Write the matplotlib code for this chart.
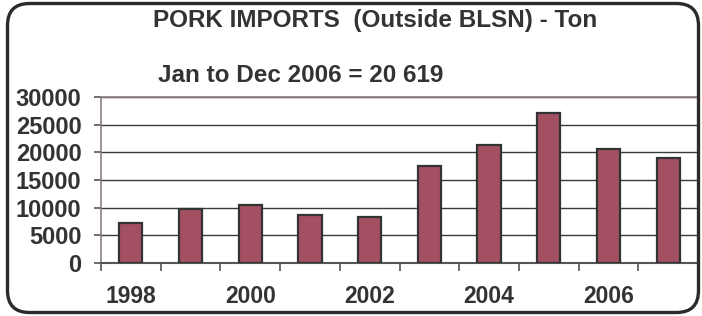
import matplotlib
matplotlib.use("Agg")
import matplotlib.pyplot as plt
from matplotlib.patches import FancyBboxPatch

# data
years = [1998, 1999, 2000, 2001, 2002, 2003, 2004, 2005, 2006, 2007]
tons = [7200, 9700, 10400, 8600, 8250, 17450, 21400, 27100, 20619, 18900]
label_years = ["1998", "2000", "2002", "2004", "2006"]
y_ticks = [0, 5000, 10000, 15000, 20000, 25000, 30000]

title = "PORK IMPORTS  (Outside BLSN) - Ton"
subtitle = "Jan to Dec 2006 = 20 619"

plt.rcParams["font.family"] = ["Liberation Sans", "DejaVu Sans"]
plt.rcParams["font.weight"] = "bold"
txt = "#333333"

fig = plt.figure(figsize=(7.02, 3.16), dpi=100)
ax = fig.add_axes([101 / 702, 53 / 316, 597 / 702, 166 / 316])

x = list(range(len(years)))
ax.bar(x, tons, width=0.39, color="#A35162", edgecolor="#333333", linewidth=1.6, zorder=3)

ax.set_xlim(-0.5, len(years) - 0.5)
ax.set_ylim(0, 30000)
ax.set_yticks(y_ticks)
ax.set_yticklabels([str(v) for v in y_ticks])
ax.yaxis.grid(True, color="#3a3a3a", linewidth=1.0, zorder=0)

# tick marks between categories, labels every other year
ax.set_xticks([i - 0.5 for i in range(len(years) + 1)], minor=True)
ax.set_xticks(x[::2])
ax.set_xticklabels(label_years)
ax.tick_params(axis="x", which="major", length=0, pad=16, labelsize=16.5, labelcolor=txt)
ax.tick_params(axis="x", which="minor", length=6, width=1.2, color="#555555", direction="out")
ax.tick_params(axis="y", length=5, width=1.2, color="#555555", pad=9, labelsize=17, labelcolor=txt)

for side in ["top", "right", "left"]:
    ax.spines[side].set_color("#8c7f7f")
    ax.spines[side].set_linewidth(1.2)
ax.spines["bottom"].set_color("#555555")
ax.spines["bottom"].set_linewidth(1.5)

fig.text(375 / 702, 1 - 21 / 316, title, ha="center", va="center", fontsize=17.5, color=txt, fontweight="bold")
fig.text(301 / 702, 1 - 76 / 316, subtitle, ha="center", va="center", fontsize=17.5, color=txt, fontweight="bold")

# rounded frame around the whole chart
frame = FancyBboxPatch((0.075, 0.035), 6.91, 3.09, boxstyle="round,pad=0,rounding_size=0.22",
                       transform=fig.dpi_scale_trans, fill=False, edgecolor="#2b2b2b", linewidth=2.4)
fig.patches.append(frame)

plt.savefig("out.png", dpi=100)
